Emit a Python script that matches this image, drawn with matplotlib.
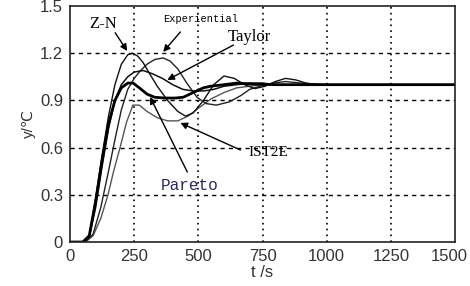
import matplotlib
matplotlib.use("Agg")
import matplotlib.pyplot as plt
import matplotlib.transforms as mtransforms

# ---- data ----
t_zn = [0, 50, 75, 100, 125, 150, 175, 200, 225, 245, 265, 285, 310, 340, 380, 420, 450, 480, 520, 560, 600, 640, 680, 720, 760, 800, 840, 880, 920, 960, 1000, 1100, 1500]
y_zn = [0, 0, 0.04, 0.28, 0.55, 0.8, 1.0, 1.13, 1.19, 1.2, 1.18, 1.14, 1.07, 0.99, 0.9, 0.83, 0.8, 0.82, 0.9, 1.0, 1.055, 1.04, 1.0, 0.975, 0.99, 1.02, 1.04, 1.03, 1.01, 1.0, 1.0, 1.0, 1.0]

t_exp = [0, 60, 90, 120, 150, 175, 200, 225, 250, 275, 300, 330, 363, 390, 420, 455, 495, 530, 570, 620, 665, 700, 740, 790, 840, 900, 1000, 1500]
y_exp = [0, 0, 0.05, 0.22, 0.45, 0.65, 0.84, 0.97, 1.04, 1.09, 1.13, 1.16, 1.17, 1.15, 1.1, 1.01, 0.92, 0.88, 0.87, 0.89, 0.93, 0.97, 0.99, 1.01, 1.02, 1.01, 1.0, 1.0]

t_tay = [0, 50, 75, 100, 125, 150, 175, 200, 225, 250, 285, 320, 360, 400, 440, 480, 520, 560, 600, 650, 700, 750, 800, 900, 1000, 1500]
y_tay = [0, 0, 0.03, 0.22, 0.48, 0.72, 0.9, 1.0, 1.05, 1.08, 1.09, 1.07, 1.04, 1.0, 0.97, 0.96, 0.96, 0.97, 0.99, 1.0, 1.01, 1.01, 1.0, 1.0, 1.0, 1.0]

t_par = [0, 50, 75, 100, 125, 150, 175, 200, 225, 246, 270, 300, 330, 370, 410, 441, 480, 520, 547, 600, 650, 700, 800, 900, 1000, 1500]
y_par = [0, 0, 0.04, 0.26, 0.52, 0.75, 0.9, 0.98, 1.01, 1.01, 0.98, 0.94, 0.92, 0.915, 0.915, 0.92, 0.95, 0.98, 0.99, 1.0, 1.01, 1.005, 1.0, 1.0, 1.0, 1.0]

t_ist = [0, 60, 90, 120, 148, 170, 195, 220, 245, 270, 300, 340, 380, 420, 460, 500, 550, 600, 650, 700, 750, 800, 850, 900, 1000, 1500]
y_ist = [0, 0, 0.04, 0.15, 0.3, 0.45, 0.6, 0.76, 0.87, 0.87, 0.83, 0.79, 0.77, 0.77, 0.8, 0.85, 0.91, 0.95, 0.98, 0.99, 1.0, 1.0, 1.0, 1.0, 1.0, 1.0]

x_ticks = [0, 250, 500, 750, 1000, 1250, 1500]
x_ticklabels = ["0", "250", "500", "750", "1000", "1250", "1500"]
y_ticks = [0, 0.3, 0.6, 0.9, 1.2, 1.5]
y_ticklabels = ["0", "0.3", "0.6", "0.9", "1.2", "1.5"]

# ---- figure ----
fig = plt.figure(figsize=(4.70, 2.86), dpi=100)
ax = fig.add_axes([70/470, 44/286, 385/470, 236/286])

ax.plot(t_ist, y_ist, color="#555555", lw=1.0)
ax.plot(t_exp, y_exp, color="#222222", lw=1.0)
ax.plot(t_tay, y_tay, color="#111111", lw=1.1)
ax.plot(t_zn, y_zn, color="#111111", lw=1.0)
ax.plot(t_par, y_par, color="#000000", lw=2.0)

ax.set_xlim(0, 1500)
ax.set_ylim(0, 1.5)
ax.set_xticks(x_ticks)
ax.set_xticklabels(x_ticklabels)
ax.set_yticks(y_ticks)
ax.set_yticklabels(y_ticklabels)

for yv in y_ticks[1:-1]:
    ax.axhline(yv, color="black", lw=1.0, ls=(0, (3, 3)), zorder=0.5)
for xv in x_ticks[1:-1]:
    ax.axvline(xv, color="black", lw=1.2, ls=(0, (1, 2.5)), zorder=0.5)

for s in ax.spines.values():
    s.set_color("#222222")
    s.set_linewidth(1.2)
ax.tick_params(length=0, labelsize=12, labelcolor="#333333", pad=5)
for lab in ax.get_xticklabels() + ax.get_yticklabels():
    lab.set_family("Liberation Sans")
# keep the last x tick label inside the canvas
last = ax.get_xticklabels()[-1]
last.set_transform(last.get_transform() + mtransforms.ScaledTranslation(-6/100, 0, fig.dpi_scale_trans))

ax.set_xlabel("t /s", family="Liberation Sans", fontsize=12, color="#333333", labelpad=1)
ax.set_ylabel("y/℃", family=["Liberation Sans", "DejaVu Sans"], fontsize=11, color="#333333", labelpad=3)

arrow = dict(arrowstyle="-|>", color="black", lw=1.0, mutation_scale=10, shrinkA=0, shrinkB=0)
ax.annotate("", xy=(223, 1.214), xytext=(176, 1.33), arrowprops=arrow)
ax.annotate("", xy=(363, 1.208), xytext=(430, 1.335), arrowprops=arrow)
ax.annotate("", xy=(379, 1.03), xytext=(637, 1.252), arrowprops=arrow)
ax.annotate("", xy=(430, 0.757), xytext=(664, 0.585), arrowprops=arrow)
ax.annotate("", xy=(312, 0.922), xytext=(457, 0.445), arrowprops=arrow)

ax.text(129, 1.386, "Z-N", family="Liberation Serif", fontsize=12, ha="center", va="center")
ax.text(508, 1.418, "Experiential", family="Liberation Mono", fontsize=7.5, ha="center", va="center")
ax.text(699, 1.303, "Taylor", family="Liberation Serif", fontsize=12, ha="center", va="center")
ax.text(773, 0.572, "IST2E", family="Liberation Serif", fontsize=11, ha="center", va="center")
ax.text(465, 0.362, "Pareto", family="Liberation Mono", fontsize=11.5, color="#2a2a60", ha="center", va="center")

fig.savefig("out.png", dpi=100)
